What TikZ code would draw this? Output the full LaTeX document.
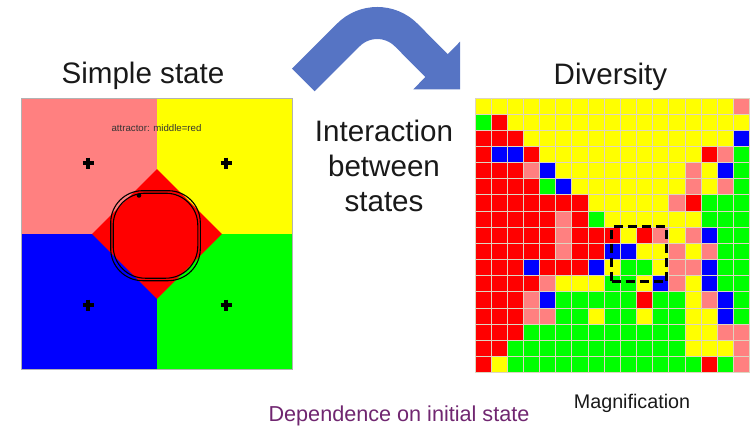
\documentclass[tikz,border=0pt]{standalone}
\usepackage{fontspec}
\setmainfont{Liberation Sans}
\usetikzlibrary{positioning, calc, shapes.geometric}
\definecolor{cellR}{RGB}{255,0,0}
\definecolor{cellP}{RGB}{255,128,128}
\definecolor{cellY}{RGB}{255,255,0}
\definecolor{cellG}{RGB}{0,255,0}
\definecolor{cellB}{RGB}{0,0,255}
\definecolor{arrowblue}{RGB}{86,116,196}
\definecolor{darkpurple}{RGB}{112,38,112}
\definecolor{gridline}{RGB}{222,212,192}
\tikzstyle{headtext} = [font=\fontsize{29.7}{35.1}\selectfont, text=black!90, inner sep=0pt, align=center]
\tikzstyle{caption} = [font=\fontsize{21.7}{26}\selectfont, inner sep=0pt, anchor=base]
\tikzstyle{cell} = [draw=gridline, line width=0.9bp]
\tikzstyle{crossmark} = [line width=3.2bp, black]
\tikzstyle{orbit} = [line width=1.1bp, black, rounded corners=32bp]
\tikzstyle{zoombox} = [draw=black, line width=3.2bp, dash pattern=on 9bp off 5bp, inner sep=0pt,
                       minimum width=55bp, minimum height=55bp]
\begin{document}
\begin{tikzpicture}[x=1bp, y=-1bp]
    \useasboundingbox (0,0) rectangle (751,428);

    % Left panel: four basins
    \node[minimum size=270bp, inner sep=0pt] (simple) at (157,234) {};
    \fill[cellP] (simple.north west) rectangle (simple.center);
    \fill[cellY] (simple.north) rectangle (simple.east);
    \fill[cellB] (simple.west) rectangle (simple.south);
    \fill[cellG] (simple.center) rectangle (simple.south east);
    \draw[gray!60, line width=0.8bp] (simple.north west) rectangle (simple.south east);
    \node[diamond, fill=cellR, minimum width=130bp, minimum height=130bp, inner sep=0pt] (basin) at (simple.center) {};

    % Attractor cycle and fixed points
    \draw[orbit] (110.7,190.7) rectangle (200.3,280.7);
    \draw[orbit] (113.2,193.2) rectangle (197.8,278.2);
    \fill (139,195.5) circle (2.3bp);
    \foreach \p in {(88,163),(226,163),(88,305),(226,305)}
        \draw[crossmark] \p ++(-5.5,0) -- ++(11,0) \p ++(0,-5.5) -- ++(0,11);
    \node[font=\fontsize{9.7}{11}\selectfont, text=black!80, inner sep=0pt, anchor=base] (attlabel) at (156.5,131.5) {attractor: middle=red};
    \node[headtext, above=8.8bp of simple, xshift=-14bp] (simpletitle) {Simple state};

    % Right panel: 17x17 grid of states
    \node[minimum size=274.5bp, inner sep=0pt, anchor=north west] (diversity) at (475,98) {};
    \foreach \row [count=\r from 0] in {
        {Y,Y,Y,Y,Y,Y,Y,Y,Y,Y,Y,Y,Y,Y,Y,Y,P},
        {G,R,Y,Y,Y,Y,Y,Y,Y,Y,Y,Y,Y,Y,Y,Y,Y},
        {R,R,R,Y,Y,Y,Y,Y,Y,Y,Y,Y,Y,Y,Y,Y,B},
        {R,B,B,R,Y,Y,Y,Y,Y,Y,Y,Y,Y,Y,R,P,G},
        {R,R,R,P,B,Y,Y,Y,Y,Y,Y,Y,Y,P,Y,B,G},
        {R,R,R,R,G,B,Y,Y,Y,Y,Y,Y,Y,P,Y,P,G},
        {R,R,R,R,R,R,R,Y,Y,Y,Y,Y,P,R,G,G,G},
        {R,R,R,R,R,P,R,G,Y,Y,Y,Y,Y,Y,G,G,G},
        {R,R,R,R,R,P,R,R,R,Y,R,P,Y,P,B,G,G},
        {R,R,R,R,R,P,R,R,B,B,Y,Y,P,Y,P,G,G},
        {R,R,R,B,R,R,R,B,Y,G,G,Y,P,P,B,G,G},
        {R,R,R,R,P,Y,Y,Y,G,G,Y,B,P,Y,B,G,G},
        {R,R,R,P,B,G,G,G,G,G,R,G,G,Y,P,B,G},
        {R,R,R,P,P,G,G,Y,G,G,Y,G,G,Y,Y,B,G},
        {R,R,R,G,G,G,G,G,G,G,G,G,G,Y,Y,P,P},
        {R,R,G,G,G,G,G,G,G,G,G,G,G,Y,Y,Y,P},
        {R,Y,G,G,G,G,G,G,G,G,G,G,G,G,R,G,P}}
        \foreach \c [count=\k from 0] in \row
            \draw[cell, fill=cell\c] (475+16.15*\k, 98+16.15*\r) rectangle ++(16.15,16.15);
    \node[zoombox, anchor=north west] (magbox) at (610,225) {};
    \node[headtext, above=6.8bp of diversity, xshift=-2bp] (divtitle) {Diversity};

    % Curved arrow between panels
    \coordinate (tail) at (303.3,80);
    \coordinate (bend) at (377.3,6);
    \coordinate (headbase) at (439,68);
    \draw[arrowblue, line width=32bp, rounded corners=41bp] (tail) -- (bend) -- (headbase);
    \fill[arrowblue] (460,41.7) -- (460,89.3) -- (413.3,89.3) -- cycle;
    \node[headtext, anchor=base] (interact) at (384,211.7) {Interaction\\between\\states};

    % Captions
    \node[caption, text=darkpurple] (depend) at (399,421.7) {Dependence on initial state};
    \node[caption, font=\fontsize{19.8}{24}\selectfont, text=black!90] (magnify) at (632,408.3) {Magnification};
\end{tikzpicture}
\end{document}
